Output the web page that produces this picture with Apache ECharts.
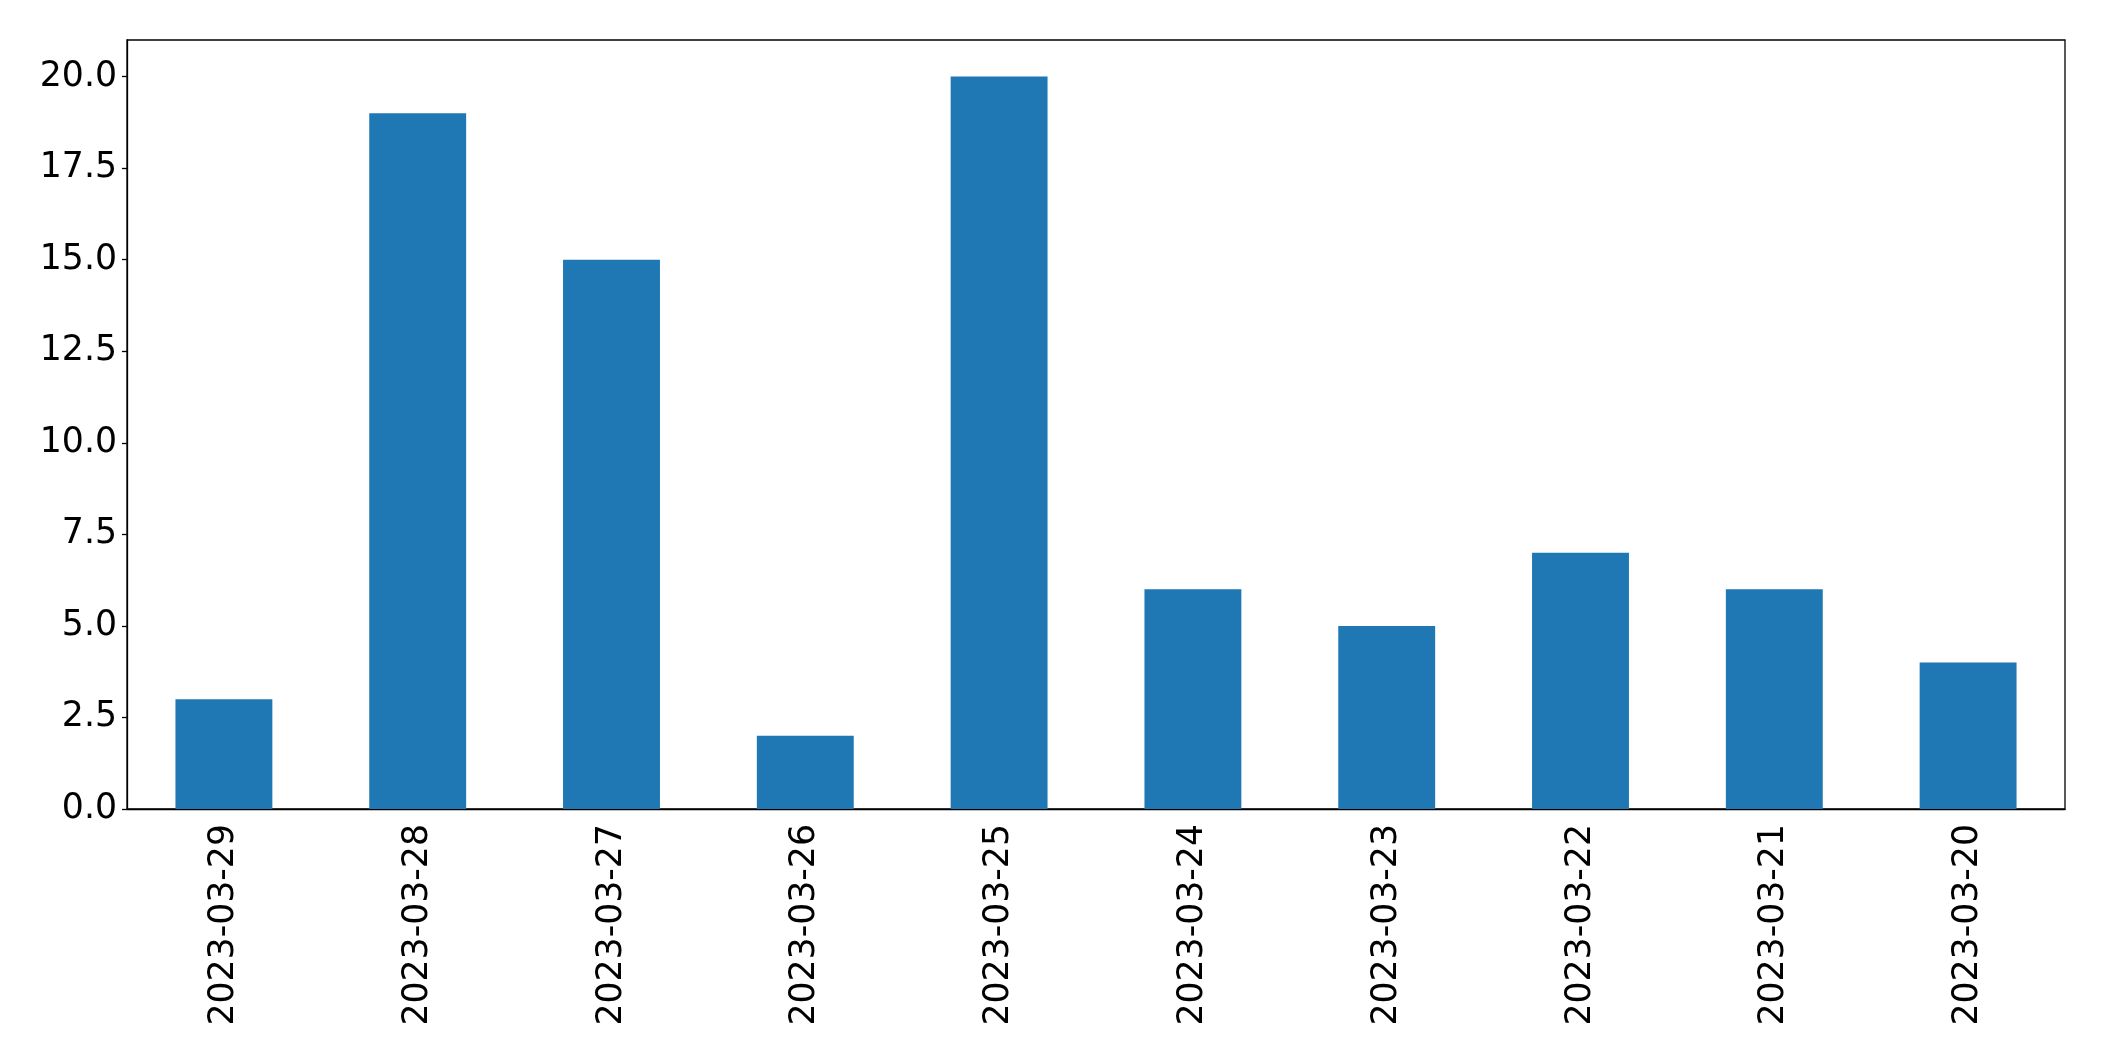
<!DOCTYPE html>
<html>
<head>
<meta charset="utf-8">
<script src="https://cdn.jsdelivr.net/npm/echarts@6/dist/echarts.min.js"></script>
<style>
  html, body { margin: 0; padding: 0; background: #fff; }
  #main { width: 2104px; height: 1061px; }
</style>
</head>
<body>
<div id="main"></div>
<script>
const dates = ['2023-03-29', '2023-03-28', '2023-03-27', '2023-03-26', '2023-03-25',
  '2023-03-24', '2023-03-23', '2023-03-22', '2023-03-21', '2023-03-20'];
const counts = [3, 19, 15, 2, 20, 6, 5, 7, 6, 4];

const chart = echarts.init(document.getElementById('main'));
const font = 'DejaVu Sans';

chart.setOption({
  animation: false,
  grid: {
    left: 127, right: 39, top: 40, bottom: 252,
    show: true, borderColor: '#000', borderWidth: 1.3, backgroundColor: 'transparent'
  },
  xAxis: {
    type: 'category',
    data: dates,
    boundaryGap: true,
    axisLine: { lineStyle: { color: '#000', width: 1.3 } },
    axisTick: { alignWithLabel: true, length: 5, lineStyle: { color: '#000', width: 1.3 } },
    axisLabel: { rotate: 90, margin: 15, color: '#000', fontSize: 34.7, fontFamily: font, interval: 0 },
    splitLine: { show: false }
  },
  yAxis: {
    type: 'value',
    min: 0, max: 21, interval: 2.5,
    axisLine: { show: true, lineStyle: { color: '#000', width: 1.3 } },
    axisTick: { show: true, length: 5, lineStyle: { color: '#000', width: 1.3 } },
    axisLabel: {
      margin: 10, color: '#000', fontSize: 34.7, fontFamily: font,
      formatter: v => v.toFixed(1),
      showMaxLabel: false
    },
    splitLine: { show: false }
  },
  series: [{
    type: 'bar',
    data: counts,
    barWidth: '50%',
    itemStyle: { color: '#1f77b4' }
  }]
});
</script>
</body>
</html>
